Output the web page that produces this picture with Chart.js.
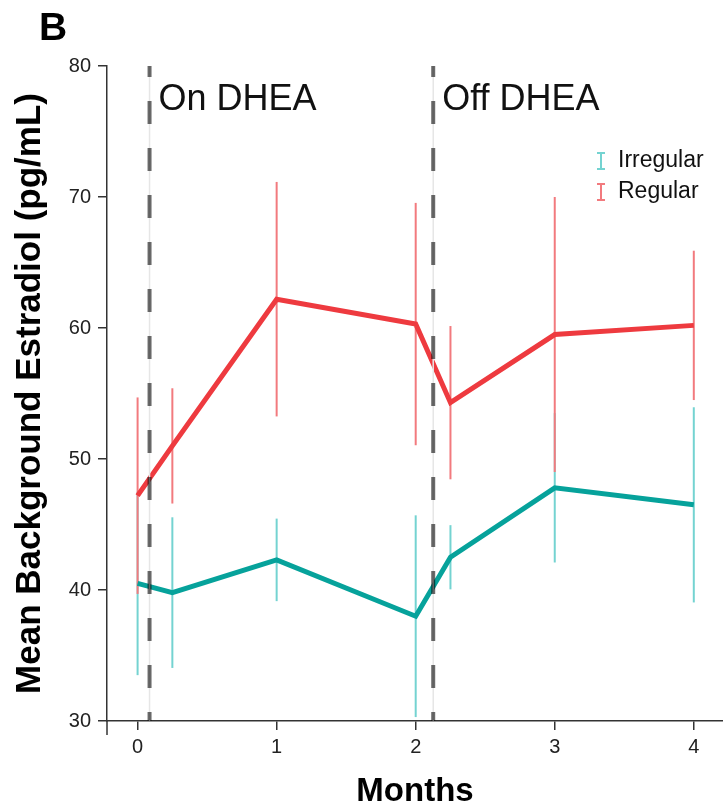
<!DOCTYPE html>
<html>
<head>
<meta charset="utf-8">
<title>Mean Background Estradiol</title>
<script src="https://cdn.jsdelivr.net/npm/chart.js@4.4.1/dist/chart.umd.min.js"></script>
<style>
    body { margin: 0; background: #fff; }
    #chartBox { width: 723px; height: 808px; }
</style>
</head>
<body>
<div id="chartBox"><canvas id="estradiolChart" width="723" height="808"></canvas></div>
<script>
        // data (months since start, pg/mL)
        let months = [0, 0.25, 1, 2, 2.25, 3, 4];
        let regularMean = [47.2, 51.0, 62.2, 60.3, 54.3, 59.5, 60.2];
        let regularErr = [7.5, 4.4, 8.95, 9.25, 5.85, 10.5, 5.7];
        let irregularMean = [40.5, 39.8, 42.3, 38.0, 42.5, 47.8, 46.5];
        let irregularErr = [7.0, 5.75, 3.15, 7.7, 2.45, 5.7, 7.45];
        let xTicks = [0, 1, 2, 3, 4];
        let phaseStarts = [0.086, 2.126];
        let phaseLabels = ["On DHEA", "Off DHEA"];
        let groupNames = ["Irregular", "Regular"];

        let colors = {
            regular: "#ee3a3f",
            regularBar: "#f27a7e",
            irregular: "#06a29b",
            irregularBar: "#74d3d1"
        };

        const fontFamily = "'Liberation Sans', Arial, sans-serif";

        function toPoints(xs, ys) {
            return xs.map((x, i) => ({ x: x, y: ys[i] }));
        }

        // vertical error bars, drawn under the mean lines
        const errorBarPlugin = {
            id: "errorBars",
            beforeDatasetsDraw(chart) {
                let ctx = chart.ctx;
                let xs = chart.scales.x;
                let ys = chart.scales.y;
                let groups = [
                    { mean: irregularMean, err: irregularErr, color: colors.irregularBar },
                    { mean: regularMean, err: regularErr, color: colors.regularBar }
                ];
                ctx.save();
                groups.forEach(g => {
                    ctx.strokeStyle = g.color;
                    ctx.lineWidth = 2;
                    months.forEach((m, i) => {
                        let px = xs.getPixelForValue(m);
                        ctx.beginPath();
                        ctx.moveTo(px, ys.getPixelForValue(g.mean[i] - g.err[i]));
                        ctx.lineTo(px, ys.getPixelForValue(g.mean[i] + g.err[i]));
                        ctx.stroke();
                    });
                });
                ctx.restore();
            }
        };

        // dashed phase markers, phase labels, legend and panel letter
        const annotationPlugin = {
            id: "annotations",
            afterDatasetsDraw(chart) {
                let ctx = chart.ctx;
                let area = chart.chartArea;
                let xs = chart.scales.x;
                ctx.save();

                // y axis runs a little past the x axis
                ctx.strokeStyle = "#333";
                ctx.lineWidth = 1.5;
                ctx.beginPath();
                ctx.moveTo(area.left, area.bottom);
                ctx.lineTo(area.left, area.bottom + 14);
                ctx.stroke();

                phaseStarts.forEach((m, i) => {
                    let px = xs.getPixelForValue(m);
                    ctx.strokeStyle = "#e6e6e6";
                    ctx.lineWidth = 1.5;
                    ctx.setLineDash([]);
                    ctx.beginPath();
                    ctx.moveTo(px, area.top);
                    ctx.lineTo(px, area.bottom);
                    ctx.stroke();

                    ctx.strokeStyle = "rgba(0,0,0,0.58)";
                    ctx.lineWidth = 4;
                    ctx.setLineDash([23, 24]);
                    ctx.lineDashOffset = 12;
                    ctx.beginPath();
                    ctx.moveTo(px, area.top);
                    ctx.lineTo(px, area.bottom);
                    ctx.stroke();

                    ctx.setLineDash([]);
                    ctx.fillStyle = "#111";
                    ctx.font = "36px " + fontFamily;
                    ctx.textAlign = "left";
                    ctx.textBaseline = "alphabetic";
                    ctx.fillText(phaseLabels[i], px + 9, 110);
                });

                // legend
                let legendColors = [colors.irregularBar, colors.regularBar];
                groupNames.forEach((name, i) => {
                    let cy = 161 + i * 31;
                    let cx = 601;
                    ctx.strokeStyle = legendColors[i];
                    ctx.lineWidth = 2;
                    ctx.beginPath();
                    ctx.moveTo(cx, cy - 8);
                    ctx.lineTo(cx, cy + 8);
                    ctx.moveTo(cx - 4, cy - 8);
                    ctx.lineTo(cx + 4, cy - 8);
                    ctx.moveTo(cx - 4, cy + 8);
                    ctx.lineTo(cx + 4, cy + 8);
                    ctx.stroke();
                    ctx.fillStyle = "#111";
                    ctx.font = "23px " + fontFamily;
                    ctx.textAlign = "left";
                    ctx.textBaseline = "middle";
                    ctx.fillText(name, 618, cy);
                });

                ctx.fillStyle = "#000";
                ctx.font = "bold 39px " + fontFamily;
                ctx.textAlign = "left";
                ctx.textBaseline = "alphabetic";
                ctx.fillText("B", 39, 40);
                ctx.restore();
            }
        };

        let chart = new Chart(document.getElementById("estradiolChart"), {
            type: "scatter",
            data: {
                datasets: [
                    {
                        label: "Irregular",
                        data: toPoints(months, irregularMean),
                        showLine: true,
                        borderColor: colors.irregular,
                        backgroundColor: colors.irregular,
                        borderWidth: 5,
                        pointRadius: 0,
                        pointHoverRadius: 0
                    },
                    {
                        label: "Regular",
                        data: toPoints(months, regularMean),
                        showLine: true,
                        borderColor: colors.regular,
                        backgroundColor: colors.regular,
                        borderWidth: 5,
                        pointRadius: 0,
                        pointHoverRadius: 0
                    }
                ]
            },
            options: {
                responsive: false,
                animation: false,
                devicePixelRatio: 1,
                layout: { padding: { top: 66, right: 0, left: 0, bottom: 0 } },
                plugins: {
                    legend: { display: false },
                    tooltip: { enabled: false }
                },
                scales: {
                    x: {
                        type: "linear",
                        min: -0.22,
                        max: 4.21,
                        afterBuildTicks: axis => { axis.ticks = xTicks.map(v => ({ value: v })); },
                        afterFit: axis => { axis.height = 87; },
                        grid: { drawOnChartArea: false, drawTicks: true, tickLength: 9, color: "#333", lineWidth: 1.5 },
                        border: { display: true, color: "#333", width: 1.5 },
                        ticks: { color: "#222", font: { size: 20, family: fontFamily }, padding: 5 },
                        title: {
                            display: true,
                            text: "Months",
                            color: "#000",
                            font: { size: 33, weight: "bold", family: fontFamily, lineHeight: 1 },
                            padding: { top: 0, bottom: 0 }
                        }
                    },
                    y: {
                        min: 30,
                        max: 80,
                        afterFit: axis => { axis.width = 107; },
                        grid: { drawOnChartArea: false, drawTicks: true, tickLength: 9, color: "#333", lineWidth: 1.5 },
                        border: { display: true, color: "#333", width: 1.5 },
                        ticks: { stepSize: 10, color: "#222", font: { size: 20, family: fontFamily }, padding: 7 },
                        title: {
                            display: true,
                            text: "Mean Background Estradiol (pg/mL)",
                            color: "#000",
                            font: { size: 35, weight: "bold", family: fontFamily },
                            padding: { top: 9, bottom: 0 }
                        }
                    }
                }
            },
            plugins: [errorBarPlugin, annotationPlugin]
        });
</script>
</body>
</html>
